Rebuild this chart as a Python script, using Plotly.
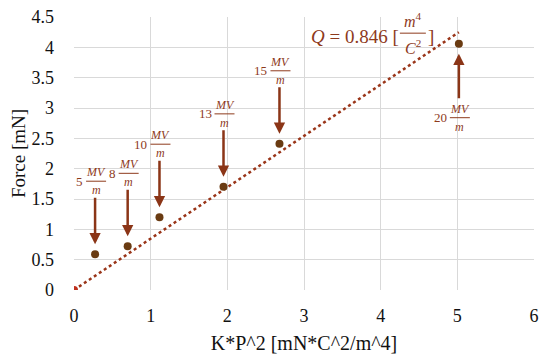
import plotly.graph_objects as go

# ---- data ----
x_vals = [0, 0.275, 0.70, 1.115, 1.95, 2.68, 5.02]
y_vals = [0, 0.59, 0.72, 1.20, 1.70, 2.41, 4.06]
field_vals = ["5", "8", "10", "13", "15", "20"]   # MV/m for points 1..6
arrow_dir = ["down", "down", "down", "down", "down", "up"]
trend_x = [0, 5.02]
trend_y = [0, 4.25]
q_value = "0.846"
x_ticks = [0, 1, 2, 3, 4, 5, 6]
y_ticks = [0, 0.5, 1, 1.5, 2, 2.5, 3, 3.5, 4, 4.5]

ARROW = "#8B3517"
TEXT = "#8E3A1C"
PT = "#6A3B12"
SERIF = "Liberation Serif"

fig = go.Figure()
fig.add_trace(go.Scatter(x=trend_x, y=trend_y, mode="lines",
                         line=dict(color="#9A3519", width=2.5, dash="dot"),
                         hoverinfo="skip", showlegend=False))
fig.add_trace(go.Scatter(x=x_vals, y=y_vals, mode="markers",
                         marker=dict(size=8, color=[("#C0311E" if i == 0 else PT) for i in range(len(x_vals))]),
                         showlegend=False))

annotations = []
shapes = []
for i, (fv, d) in enumerate(zip(field_vals, arrow_dir)):
    xv, yv = x_vals[i + 1], y_vals[i + 1]
    if d == "down":
        ay, mv_s, bar_s, m_s = -58, 82, 73, 64
    else:
        ay, mv_s, bar_s, m_s = 56, -65, -74, -83
    # arrow
    annotations.append(dict(x=xv, y=yv, xref="x", yref="y", text="", showarrow=True,
                            ax=0, ay=ay, arrowhead=2, arrowsize=0.9, arrowwidth=2.5,
                            arrowcolor=ARROW, standoff=10))
    # fraction MV / m
    annotations.append(dict(x=xv, y=yv, xref="x", yref="y", text="<i>MV</i>", showarrow=False,
                            yshift=mv_s, xshift=1, font=dict(family=SERIF, size=12, color=TEXT)))
    annotations.append(dict(x=xv, y=yv, xref="x", yref="y", text="<i>m</i>", showarrow=False,
                            yshift=m_s, xshift=1, font=dict(family=SERIF, size=12, color=TEXT)))
    annotations.append(dict(x=xv, y=yv, xref="x", yref="y", text=fv, showarrow=False,
                            yshift=bar_s, xshift=-10, xanchor="right",
                            font=dict(family=SERIF, size=13, color=TEXT)))
    shapes.append(dict(type="line", xref="x", yref="y", xsizemode="pixel", ysizemode="pixel",
                       xanchor=xv, yanchor=yv, x0=-9, x1=11, y0=bar_s, y1=bar_s,
                       line=dict(color=TEXT, width=1)))

# Q label anchored to the end of the trend line
qx, qy = trend_x[1], trend_y[1]
annotations.append(dict(x=qx, y=qy, xref="x", yref="y", text="<i>Q</i> = " + q_value + " [",
                        showarrow=False, xanchor="left", xshift=-150, yshift=-4,
                        font=dict(family=SERIF, size=19, color=TEXT)))
annotations.append(dict(x=qx, y=qy, xref="x", yref="y", text="<i>m</i><sup>4</sup>",
                        showarrow=False, xshift=-46, yshift=12,
                        font=dict(family=SERIF, size=16, color=TEXT)))
annotations.append(dict(x=qx, y=qy, xref="x", yref="y", text="<i>C</i><sup>2</sup>",
                        showarrow=False, xshift=-46, yshift=-15,
                        font=dict(family=SERIF, size=16, color=TEXT)))
annotations.append(dict(x=qx, y=qy, xref="x", yref="y", text="]",
                        showarrow=False, xanchor="left", xshift=-33, yshift=-4,
                        font=dict(family=SERIF, size=19, color=TEXT)))
shapes.append(dict(type="line", xref="x", yref="y", xsizemode="pixel", ysizemode="pixel",
                   xanchor=qx, yanchor=qy, x0=-59, x1=-33, y0=-1, y1=-1,
                   line=dict(color=TEXT, width=1)))

axis_common = dict(showgrid=True, gridcolor="#d9d9d9", gridwidth=1, zeroline=False,
                   showline=False, ticks="", automargin=False, ticklabeloverflow="allow",
                   tickfont=dict(family=SERIF, size=18, color="#111"))
# page has an 8px body margin, so the figure is drawn 8px smaller with margins shifted
fig.update_layout(
    width=542, height=354,
    margin=dict(l=66, r=16, t=9, b=72),
    font=dict(family=SERIF, color="#111"),
    paper_bgcolor="white", plot_bgcolor="white",
    xaxis=dict(range=[0, 6], tickvals=x_ticks, ticklabelstandoff=13,
               title=dict(text="K*P^2 [mN*C^2/m^4]", font=dict(family=SERIF, size=20, color="#111"), standoff=10),
               **axis_common),
    yaxis=dict(range=[0, 4.5], tickvals=y_ticks, ticklabelstandoff=19,
               title=dict(text="Force [mN]", font=dict(family=SERIF, size=19, color="#111"), standoff=6),
               **axis_common),
    annotations=annotations, shapes=shapes,
    showlegend=False,
)
fig.write_html("out.html")
